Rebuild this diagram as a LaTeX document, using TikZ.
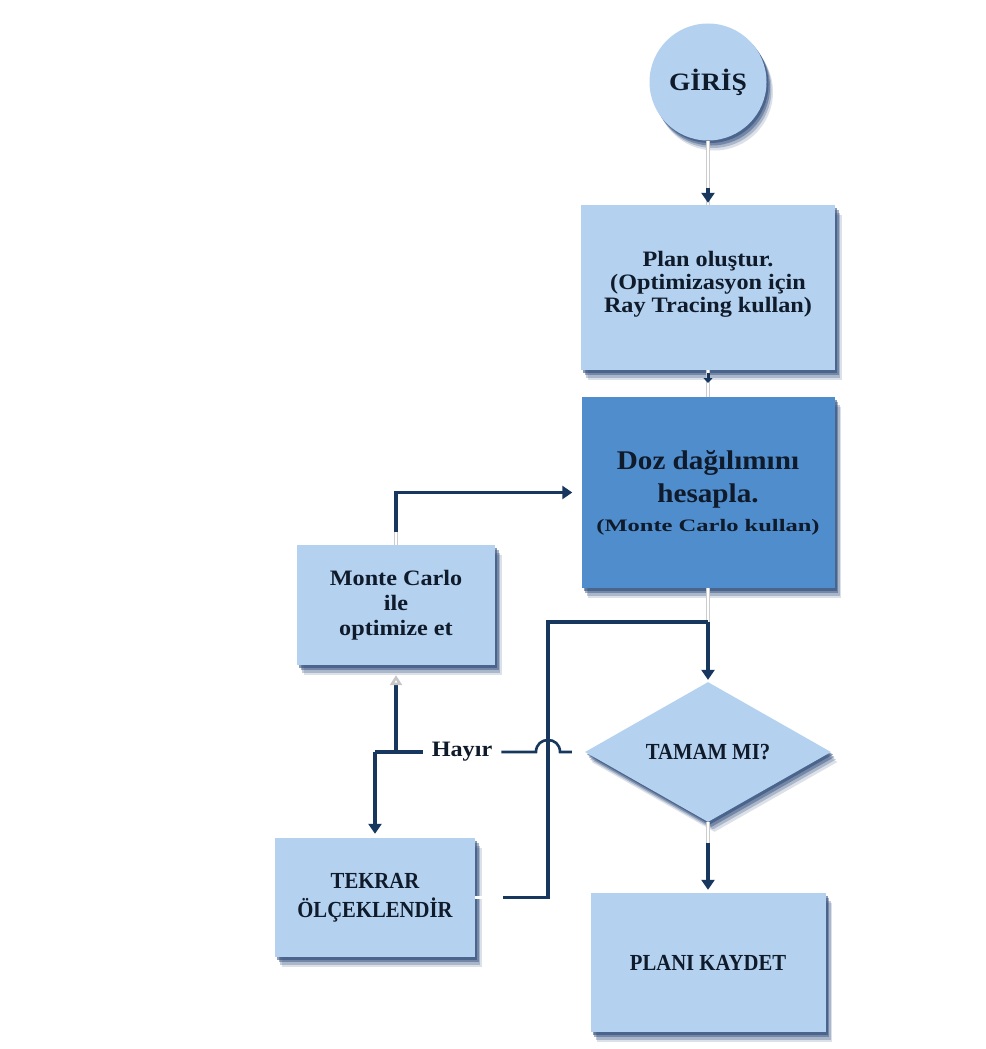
\documentclass[tikz,border=0pt]{standalone}
\usepackage{fontspec}
\setmainfont{Liberation Serif}
\newfontfamily\fA[FakeStretch=1.1]{Liberation Serif}
\newfontfamily\fB[FakeStretch=1.08]{Liberation Serif}
\newfontfamily\fC[FakeStretch=1.4]{Liberation Serif}
\newfontfamily\fD[FakeStretch=0.9]{Liberation Serif}
\usetikzlibrary{shapes.geometric,shadows,arrows.meta}
\definecolor{lb}{HTML}{B4D2EF}
\definecolor{mb}{HTML}{508DCD}
\definecolor{ln}{HTML}{17375E}
\definecolor{sh}{HTML}{2A4877}
\definecolor{tx}{HTML}{0F1A2A}
\tikzset{
  shd/.style={general shadow={shadow xshift=6.5pt, shadow yshift=-10pt, fill=sh, opacity=0.16},
              general shadow={shadow xshift=5pt, shadow yshift=-7.5pt, fill=sh, opacity=0.28},
              general shadow={shadow xshift=3.5pt, shadow yshift=-5pt, fill=sh, opacity=0.42},
              general shadow={shadow xshift=2pt, shadow yshift=-2.5pt, fill=sh, opacity=0.55}},
  box/.style={rectangle, fill=lb, inner sep=2pt, align=center, text=tx, shd},
  circ/.style={circle, fill=lb, inner sep=0pt, minimum size=117pt, text=tx, shd},
  dia/.style={diamond, fill=lb, inner sep=0pt, minimum width=246pt, minimum height=132pt, text=tx, shd},
  dk/.style={draw=ln, line width=3.8pt},
  pale/.style={draw=gray!40, line width=0.6pt, double=white, double distance=2.4pt},
  arr/.style={-{Triangle[width=13pt,length=10pt]}},
}
\begin{document}
\begin{tikzpicture}[x=1pt,y=-1pt]
\useasboundingbox (0,0) rectangle (985,1049);
\fill[white] (0,0) rectangle (985,1049);

% nodes
\node[circ, font=\fA\bfseries\fontsize{25}{28}\selectfont] (giris) at (708,82) {GİRİŞ};
\node[box, minimum width=254pt, minimum height=165pt,
      font=\fA\bfseries\fontsize{22}{23}\selectfont] (plan) at (708,287.5)
      {Plan oluştur.\\(Optimizasyon için\\ Ray Tracing kullan)\\[-12pt]\mbox{}};
\node[box, fill=mb, minimum width=253pt, minimum height=191pt,
      font=\fB\bfseries\fontsize{27}{33}\selectfont] (doz) at (708,492.5)
      {Doz dağılımını\\hesapla.\\[-4pt]\fC\bfseries\fontsize{17.5}{33}\selectfont (Monte Carlo kullan)};
\node[box, minimum width=198pt, minimum height=120pt,
      font=\fA\bfseries\fontsize{22}{25}\selectfont] (mc) at (396,605)
      {Monte Carlo\\ile\\optimize et};
\node[dia, font=\fD\bfseries\fontsize{23}{26}\selectfont] (tamam) at (708,752) {TAMAM MI?};
\node[box, minimum width=200pt, minimum height=119pt,
      font=\fD\bfseries\fontsize{23}{29}\selectfont] (tekrar) at (375,897.5)
      {TEKRAR\\ÖLÇEKLENDİR};
\node[box, minimum width=235pt, minimum height=139pt,
      font=\fD\bfseries\fontsize{23}{26}\selectfont] (kaydet) at (708,962.5) {PLANI KAYDET};
\node[text=tx, inner xsep=9pt, inner ysep=2pt,
      font=\fA\bfseries\fontsize{22}{24}\selectfont] (hayir) at (462,752) {Hayır};

% helper coordinates
\coordinate (a1) at (708,188);
\coordinate (a2) at (708,373);
\coordinate (a3) at (708,383);
\coordinate (j1) at (708,622);
\coordinate (j2) at (548,622);
\coordinate (k1) at (708,843);
\coordinate (m1) at (396,532);
\coordinate (t1) at (503,897.5);
\coordinate (hopR) at (560,752);
\coordinate (hopL) at (536,752);
\coordinate (split) at (375,752);

% connectors
\draw[pale] (giris.south) -- (plan.north);
\draw[dk, arr, shorten >=2pt] (a1) -- (plan.north);
\draw[pale] (plan.south) -- (doz.north);
\draw[dk, line width=3pt, -{Triangle[width=9pt,length=5pt]}] (a2) -- (a3);
\draw[pale] (doz.south) -- (j1);
\draw[dk, arr, shorten >=2pt] (j1) -- (tamam.north);
\draw[pale] (tamam.south) -- (k1);
\draw[dk, arr, shorten >=3pt] (k1) -- (kaydet.north);
\draw[pale] (mc.north) -- (m1);
\draw[dk, arr, shorten >=9pt] (m1) |- (doz.west);
\draw[pale] (tekrar.east) -- (t1);
\draw[dk, line width=3.4pt] (t1) -| (j2) -- (j1);
\draw[dk, line width=2.6pt] ([xshift=-13pt]tamam.west) -- (hopR)
      .. controls (560,736) and (536,736) .. (hopL) -- (hayir.east);
\draw[dk] (hayir.west) -- (split);
\draw[dk, arr, shorten >=4pt] (split) -- (tekrar.north);
\draw[dk, -{Triangle[open, fill=white, color=gray!45, width=12pt, length=10pt]}, shorten >=10pt]
      (split -| mc.south) -- (mc.south);
\end{tikzpicture}
\end{document}
